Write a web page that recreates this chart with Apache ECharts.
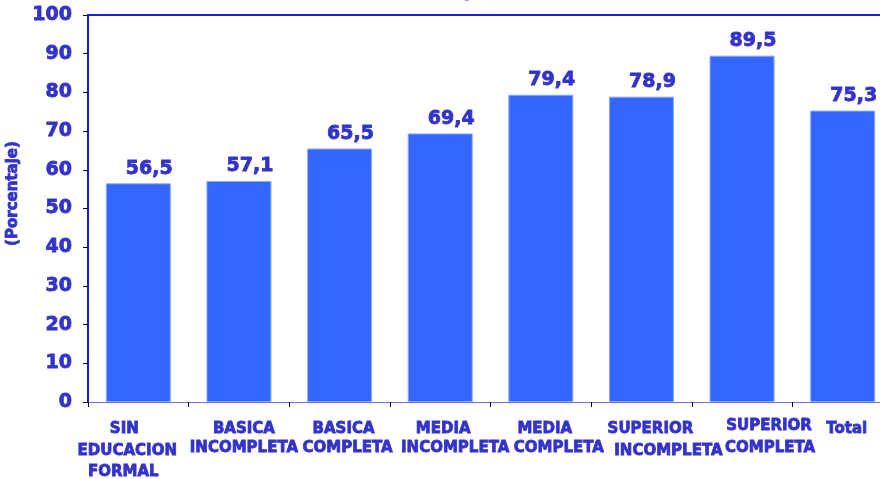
<!DOCTYPE html>
<html>
<head>
<meta charset="utf-8">
<script src="https://cdn.jsdelivr.net/npm/echarts@6/dist/echarts.min.js"></script>
<style>
  html, body { margin: 0; padding: 0; background: #fff; }
  #chart { width: 880px; height: 479px; }
</style>
</head>
<body>
<div id="chart"></div>
<script>
// datos
const categories = [
  'SIN\nEDUCACION\nFORMAL',
  'BASICA\nINCOMPLETA',
  'BASICA\nCOMPLETA',
  'MEDIA\nINCOMPLETA',
  'MEDIA\nCOMPLETA',
  'SUPERIOR\nINCOMPLETA',
  'SUPERIOR\nCOMPLETA',
  'Total'
]
const values = [56.5, 57.1, 65.5, 69.4, 79.4, 78.9, 89.5, 75.3]
const yTicks = [0, 10, 20, 30, 40, 50, 60, 70, 80, 90, 100]

// desplazamiento de cada linea de las etiquetas (como en el original)
const labelDx = [[-14, -11, -15], [5, 5], [4, 8], [3, 15], [4, 18], [9, 27], [27, 28], [4]]
const labelY = [[429, 451, 472], [429, 448], [429, 448], [429, 448], [429, 448], [429, 451], [426, 448], [429]]

const AXIS_Y = 402
const MARGIN = 17
const TEXT = '#3333cc'
const FONT = 'DejaVu Sans'
// texto un poco mas grueso, como Verdana negrita
const heavy = { textBorderColor: TEXT, textBorderWidth: 0.8 }

const rich = {}
categories.forEach((cat, i) => {
  let top = AXIS_Y + MARGIN
  cat.split('\n').forEach((line, j) => {
    const h = 2 * (labelY[i][j] - top)
    top += h
    const s = labelDx[i][j]
    rich['c' + i + 'l' + j] = Object.assign({
      fontFamily: FONT,
      fontWeight: 'bold',
      fontSize: 15,
      color: TEXT,
      lineHeight: h,
      align: 'center',
      padding: [0, s < 0 ? -2 * s : 0, 0, s > 0 ? 2 * s : 0]
    }, heavy)
  })
})

const chart = echarts.init(document.getElementById('chart'))
chart.setOption({
  animation: false,
  title: {
    text: '(Porcentaje)',
    left: 356,
    top: -19,
    padding: 0,
    textStyle: Object.assign({ fontFamily: FONT, fontWeight: 'bold', fontSize: 20, color: TEXT }, heavy)
  },
  grid: {
    left: 88,
    top: 15,
    width: 805,
    height: 387,
    outerBoundsMode: 'none'
  },
  xAxis: [
    {
      type: 'category',
      data: categories,
      axisLine: { lineStyle: { color: '#7070e8', width: 1 } },
      axisTick: { show: true, length: 5, lineStyle: { color: '#000' } },
      axisLabel: {
        interval: 0,
        margin: MARGIN,
        align: 'center',
        rich: rich,
        formatter: (v, idx) => v.split('\n').map((line, j) => '{c' + idx + 'l' + j + '|' + line + '}').join('\n')
      }
    },
    {
      type: 'category',
      position: 'top',
      data: categories,
      axisLine: { lineStyle: { color: '#1a1ae6', width: 2 } },
      axisTick: { show: false },
      axisLabel: { show: false }
    }
  ],
  yAxis: {
    type: 'value',
    min: yTicks[0],
    max: yTicks[yTicks.length - 1],
    interval: 10,
    name: '(Porcentaje)',
    nameLocation: 'middle',
    nameGap: 57,
    nameTextStyle: Object.assign({
      fontFamily: FONT,
      fontWeight: 'bold',
      fontSize: 15,
      color: TEXT,
      padding: [0, 0, 0, 30]
    }, heavy),
    axisLine: { show: true, lineStyle: { color: '#1a1ae6', width: 2 } },
    axisTick: { show: true, length: 5, lineStyle: { color: '#000' } },
    axisLabel: Object.assign({
      margin: 16,
      fontFamily: FONT,
      fontWeight: 'bold',
      fontSize: 19,
      color: TEXT
    }, heavy),
    splitLine: { show: false }
  },
  series: [
    {
      type: 'bar',
      data: values,
      barWidth: 65,
      itemStyle: { color: '#3366ff', borderColor: '#8fa8ff', borderWidth: 1 },
      label: Object.assign({
        show: true,
        position: 'top',
        distance: 5,
        offset: [11, 0],
        fontFamily: FONT,
        fontWeight: 'bold',
        fontSize: 19,
        color: TEXT,
        formatter: p => p.value.toFixed(1).replace('.', ',')
      }, heavy)
    }
  ]
})
</script>
</body>
</html>
